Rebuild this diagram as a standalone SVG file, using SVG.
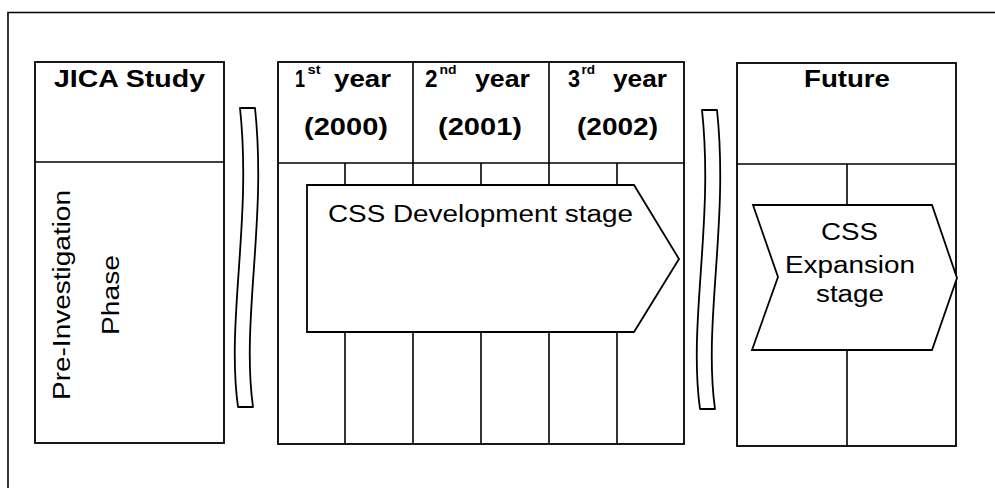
<svg xmlns="http://www.w3.org/2000/svg" width="995" height="488" viewBox="0 0 995 488">
  <style>
    .box { fill: #fff; stroke: #000; stroke-width: 1.8; }
    .ln { fill: none; stroke: #000; stroke-width: 1.6; }
    .brk { fill: #fff; stroke: #000; stroke-width: 1.8; stroke-linejoin: round; }
    text { font-family: "Liberation Sans", Arial, sans-serif; fill: #000; }
    .hd { font-size: 24px; font-weight: bold; }
    .sup { font-size: 12px; font-weight: bold; }
    .lb { font-size: 23px; }
  </style>
  <defs>
    <!-- wavy break mark between phases -->
    <path id="breakMark" d="M240,108 L255,108 C267,220 241,320 253,407 L238,407 C226,320 252,220 240,108 Z"/>
  </defs>

  <rect width="995" height="488" fill="#fff"/>

  <!-- page frame -->
  <path class="ln" d="M8,488 V12.5 H995" stroke-width="1.8"/>

  <!-- JICA study column -->
  <g id="jica-study">
    <rect class="box" x="35" y="62" width="189" height="381"/>
    <line class="ln" x1="35" y1="162" x2="224" y2="162"/>
    <text class="hd" x="129.5" y="86.5" text-anchor="middle" textLength="151" lengthAdjust="spacingAndGlyphs">JICA Study</text>
    <text class="lb" transform="translate(70,295) rotate(-90)" text-anchor="middle" textLength="210" lengthAdjust="spacingAndGlyphs">Pre-Investigation</text>
    <text class="lb" transform="translate(119,295) rotate(-90)" text-anchor="middle" textLength="80" lengthAdjust="spacingAndGlyphs">Phase</text>
  </g>

  <!-- three project years -->
  <g id="project-years">
    <rect class="box" x="278" y="62" width="406" height="382"/>
    <line class="ln" x1="278" y1="163" x2="684" y2="163"/>
    <line class="ln" x1="413" y1="62" x2="413" y2="444"/>
    <line class="ln" x1="549" y1="62" x2="549" y2="444"/>
    <line class="ln" x1="345" y1="163" x2="345" y2="444"/>
    <line class="ln" x1="481" y1="163" x2="481" y2="444"/>
    <line class="ln" x1="617" y1="163" x2="617" y2="444"/>

    <text class="hd" x="295" y="87" textLength="10" lengthAdjust="spacingAndGlyphs">1</text>
    <text class="sup" x="307.5" y="74" textLength="13" lengthAdjust="spacingAndGlyphs">st</text>
    <text class="hd" x="334" y="87" textLength="57" lengthAdjust="spacingAndGlyphs">year</text>
    <text class="hd" x="346" y="135" text-anchor="middle" textLength="84" lengthAdjust="spacingAndGlyphs">(2000)</text>

    <text class="hd" x="425" y="87" textLength="12.5" lengthAdjust="spacingAndGlyphs">2</text>
    <text class="sup" x="439.5" y="74" textLength="17" lengthAdjust="spacingAndGlyphs">nd</text>
    <text class="hd" x="475" y="87" textLength="55" lengthAdjust="spacingAndGlyphs">year</text>
    <text class="hd" x="480" y="135" text-anchor="middle" textLength="84" lengthAdjust="spacingAndGlyphs">(2001)</text>

    <text class="hd" x="568" y="87" textLength="12" lengthAdjust="spacingAndGlyphs">3</text>
    <text class="sup" x="581.5" y="74" textLength="13.5" lengthAdjust="spacingAndGlyphs">rd</text>
    <text class="hd" x="613" y="87" textLength="54" lengthAdjust="spacingAndGlyphs">year</text>
    <text class="hd" x="617.5" y="135" text-anchor="middle" textLength="81" lengthAdjust="spacingAndGlyphs">(2002)</text>
  </g>

  <!-- development stage arrow -->
  <g id="development-stage">
    <path class="box" d="M307,185 H634 L679,259 L634,332 H307 Z"/>
    <text class="lb" x="328" y="222" textLength="305" lengthAdjust="spacingAndGlyphs">CSS Development stage</text>
  </g>

  <!-- future column -->
  <g id="future">
    <rect class="box" x="737" y="63" width="219" height="383"/>
    <line class="ln" x1="737" y1="164" x2="956" y2="164"/>
    <line class="ln" x1="847" y1="164" x2="847" y2="446"/>
    <text class="hd" x="847" y="87" text-anchor="middle" textLength="86" lengthAdjust="spacingAndGlyphs">Future</text>
  </g>

  <!-- expansion stage chevron -->
  <g id="expansion-stage">
    <path class="box" d="M753,205 H932 L957,278 L932,350 H752 L778,277 Z"/>
    <text class="lb" x="849.5" y="240" text-anchor="middle" textLength="57" lengthAdjust="spacingAndGlyphs">CSS</text>
    <text class="lb" x="850" y="273" text-anchor="middle" textLength="130" lengthAdjust="spacingAndGlyphs">Expansion</text>
    <text class="lb" x="850" y="302" text-anchor="middle" textLength="68" lengthAdjust="spacingAndGlyphs">stage</text>
  </g>

  <!-- break marks between phases -->
  <g id="breaks">
    <use href="#breakMark" class="brk"/>
    <use href="#breakMark" class="brk" transform="translate(462,2)"/>
  </g>
</svg>
